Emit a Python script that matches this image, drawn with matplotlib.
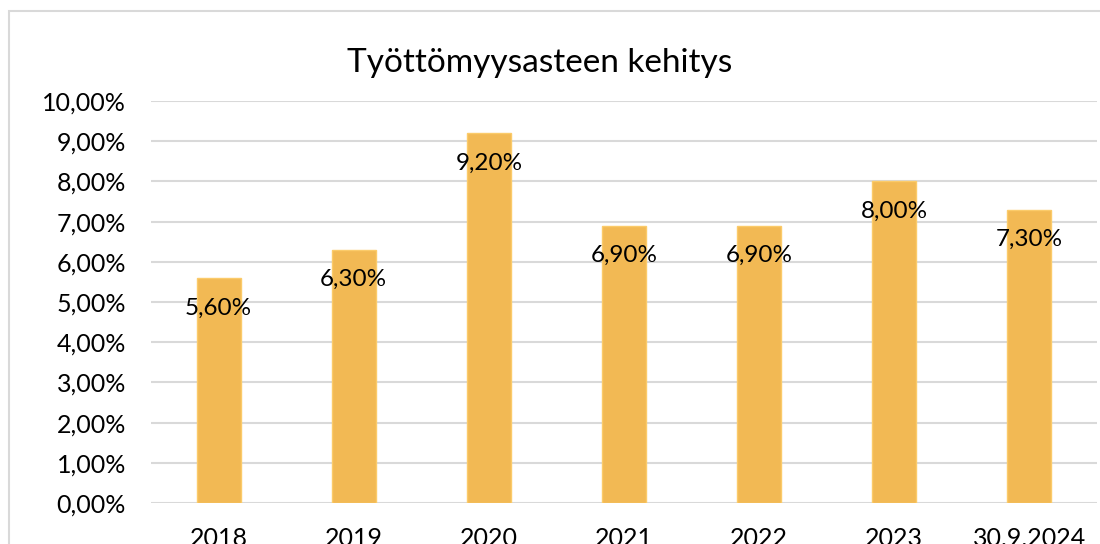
import matplotlib
matplotlib.use("Agg")
import matplotlib.pyplot as plt
from matplotlib.patches import Rectangle

categories = ["2018", "2019", "2020", "2021", "2022", "2023", "30.9.2024"]
values = [5.60, 6.30, 9.20, 6.90, 6.90, 8.00, 7.30]  # percent
yticks = [0, 1, 2, 3, 4, 5, 6, 7, 8, 9, 10]
title = "Työttömyysasteen kehitys"

plt.rcParams['font.family'] = ['Lato', 'DejaVu Sans']

W, H = 1100, 544
fig = plt.figure(figsize=(W/100, H/100), dpi=100)
fig.patch.set_facecolor("white")

# outer chart border (cropped on right/bottom)
fig.patches.append(Rectangle((9/W, -0.1), 1.2, (H-11)/H + 0.1, transform=fig.transFigure,
                             fill=False, edgecolor="#D9D9D9", linewidth=1.5))

ax = fig.add_axes([151/W, (H-503)/H, (1097-151)/W, (503-101)/H])
x = range(len(categories))
bars = ax.bar(x, values, width=0.326, color="#F2B954", edgecolor="#FBCB6A", linewidth=1, zorder=3)
ax.set_xlim(-0.5, len(categories)-0.5)
ax.set_ylim(0, 10)
ax.set_yticks(yticks)
ax.set_yticklabels([f"{t:.2f}%".replace(".", ",") for t in yticks], fontsize=18)
ax.set_xticks(list(x))
ax.set_xticklabels(categories, fontsize=18)
ax.tick_params(axis='y', length=0, pad=18)
ax.tick_params(axis='x', length=0, pad=17)
ax.grid(axis='y', color="#D9D9D9", linewidth=1.5, zorder=0)
for s in ax.spines.values():
    s.set_visible(False)

for xi, v in zip(x, values):
    ax.annotate(f"{v:.2f}%".replace(".", ","), (xi, v), xytext=(0, -30), textcoords="offset pixels",
                ha="center", va="center", fontsize=17.5, color="black", zorder=4)

fig.text(540/W, 1 - 63/H, title, ha="center", va="center", fontsize=24)

fig.savefig("out.png", dpi=100)
